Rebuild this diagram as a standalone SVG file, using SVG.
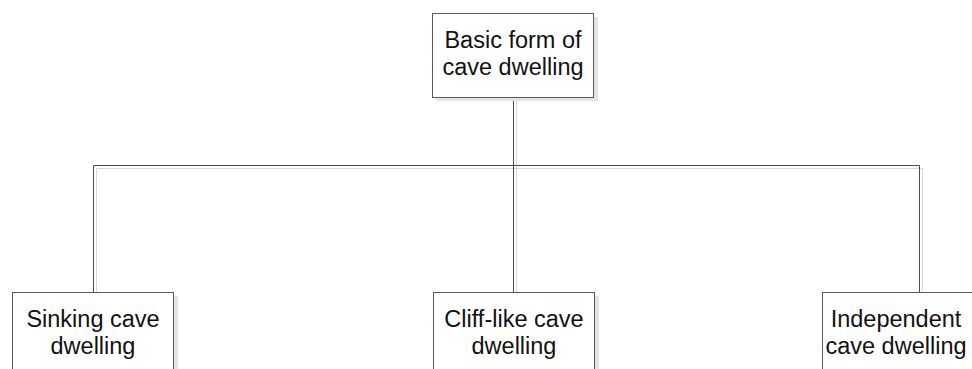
<svg xmlns="http://www.w3.org/2000/svg" width="972" height="369" viewBox="0 0 972 369">
<style>
.box{fill:#ffffff;stroke:#5a5a5a;stroke-width:1}
.shadow{fill:#e4e4e4;stroke:none}
.conn{fill:none;stroke:#4d4d4d;stroke-width:1}
.connsh{fill:none;stroke:#d9d9d9;stroke-width:1}
text{font-family:"Liberation Sans","Noto Sans",sans-serif;font-size:23.5px;fill:#111;text-anchor:middle}
</style>
<rect width="972" height="369" fill="#ffffff"/>
<g id="connectors">
<path class="connsh" d="M516.5 100 V168.5 H96.5 V295 M516.5 168.5 V295 M516.5 168.5 H922.5 V295"/>
<path class="conn" d="M513.5 97 V165.5 H93.5 V292 M513.5 165.5 V292 M513.5 165.5 H919.5 V292"/>
</g>
<g id="root">
<rect class="shadow" x="436" y="17" width="162" height="84"/>
<rect class="box" x="432.5" y="13.5" width="161" height="84"/>
<text x="513" y="48">Basic form of</text>
<text x="513" y="75">cave dwelling</text>
</g>
<g id="sinking">
<rect class="shadow" x="16" y="296" width="162" height="80"/>
<rect class="box" x="12.5" y="292.5" width="161" height="84"/>
<text x="93" y="327">Sinking cave</text>
<text x="93" y="354">dwelling</text>
</g>
<g id="cliff">
<rect class="shadow" x="437" y="296" width="162" height="80"/>
<rect class="box" x="433.5" y="292.5" width="161" height="84"/>
<text x="514" y="327">Cliff-like cave</text>
<text x="514" y="354">dwelling</text>
</g>
<g id="independent">
<rect class="shadow" x="826" y="296" width="162" height="80"/>
<rect class="box" x="822.5" y="292.5" width="161" height="84"/>
<text x="896" y="327">Independent</text>
<text x="896" y="354">cave dwelling</text>
</g>
</svg>
